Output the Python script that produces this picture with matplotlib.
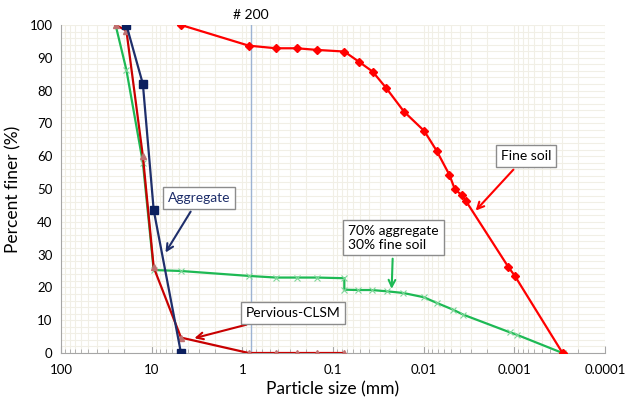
import matplotlib as mpl
mpl.use('Agg')
import matplotlib.pyplot as plt
from matplotlib.ticker import LogLocator, MultipleLocator, NullFormatter

plt.rcParams['font.family'] = ['Lato', 'DejaVu Sans']

# aggregate gradation
agg_size = [19, 12.5, 9.5, 4.75]
agg_pass = [100, 82, 43.6, 0]

# pervious CLSM
clsm_size = [25, 19, 12.5, 9.5, 4.75, 0.85, 0.425, 0.25, 0.15, 0.075]
clsm_pass = [100, 98.3, 60, 26.1, 4.7, 0, 0, 0, 0, 0]

# fine soil (sieve + hydrometer)
fine_size = [4.75, 0.85, 0.425, 0.25, 0.15, 0.075, 0.0518, 0.0366, 0.0261, 0.0165,
             0.00986, 0.00721, 0.0052, 0.00453, 0.00382, 0.00343, 0.00117, 0.000987, 0.000294]
fine_pass = [100, 93.7, 92.9, 92.9, 92.4, 91.9, 88.8, 85.8, 80.9, 73.6,
             67.7, 61.7, 54.3, 49.9, 48.2, 46.4, 26.3, 23.5, 0]

# 70% aggregate + 30% fine soil
mix_size = [25, 19, 12.5, 9.5, 4.75, 0.85, 0.425, 0.25, 0.15, 0.075, 0.075, 0.0527,
            0.0375, 0.0252, 0.0168, 0.00995, 0.00721, 0.00473, 0.00367, 0.00112, 0.000946, 0.000294]
mix_pass = [100, 86.3, 58, 25.3, 25, 23.5, 23, 23, 23, 22.8, 19.3, 19.2,
            19.2, 18.8, 18.3, 17, 15.3, 13.2, 11.7, 6.3, 5.6, 0]

xticks = [100, 10, 1, 0.1, 0.01, 0.001, 0.0001]
xticklabels = ['100', '10', '1', '0.1', '0.01', '0.001', '0.0001']
sieve200 = 0.8

fig = plt.figure(figsize=(6.25, 4.01), dpi=100)
ax = fig.add_axes([0.0976, 0.1197, 0.8704, 0.818])

ax.set_xscale('log')
ax.set_xlim(100, 0.0001)
ax.set_ylim(0, 100)

gridc = '#f1efe6'
ax.xaxis.set_minor_locator(LogLocator(base=10, subs=range(2, 10), numticks=100))
ax.xaxis.set_minor_formatter(NullFormatter())
ax.set_xticks(xticks)
ax.set_xticklabels(xticklabels)
ax.yaxis.set_major_locator(MultipleLocator(10))
ax.yaxis.set_minor_locator(MultipleLocator(2))
ax.grid(True, which='both', color=gridc, lw=0.8)
ax.set_axisbelow(True)

for s in ['top', 'right']:
    ax.spines[s].set_visible(False)
ax.spines['left'].set_color('#a6a6a6')
ax.spines['bottom'].set_color('#a6a6a6')
ax.tick_params(axis='x', which='major', direction='in', length=5, color='#a6a6a6', labelsize=9.5, pad=8)
ax.tick_params(axis='x', which='minor', direction='in', length=3, color='#a6a6a6')
ax.tick_params(axis='y', which='both', length=0, labelsize=9.5, pad=6)

ax.axvline(sieve200, color='#9db3d3', lw=1, zorder=1)
ax.text(sieve200, 101.2, '# 200', ha='center', va='bottom', fontsize=10)

ax.plot(mix_size, mix_pass, color='#1db954', lw=1.6, marker='x', ms=4, mew=0.8,
        mec='#7fd89a', zorder=3)
ax.plot(clsm_size, clsm_pass, color='#c80000', lw=1.6, marker='^', ms=4.5,
        mfc='#c07070', mec='#c07070', zorder=4)
ax.plot(agg_size, agg_pass, color='#1f2f6b', lw=1.6, marker='s', ms=6,
        mfc='#0b1f5e', mec='#0b1f5e', zorder=5)
ax.plot(fine_size, fine_pass, color='#ff0000', lw=1.6, marker='D', ms=4,
        mfc='#ff0000', mec='#ff0000', zorder=4)

box = dict(boxstyle='square,pad=0.35', fc='white', ec='#8c8c8c', lw=1)
ax.annotate('Aggregate', xy=(7.3, 29.9), xytext=(3.0, 47.3), ha='center', va='center',
            fontsize=10, color='#1f2f6b', bbox=box,
            arrowprops=dict(arrowstyle='->', color='#1f2f6b', lw=1.5, mutation_scale=12))
ax.annotate('Fine soil', xy=(0.0028, 42.8), xytext=(0.000748, 60), ha='center', va='center',
            fontsize=10, bbox=box,
            arrowprops=dict(arrowstyle='->', color='#ff0000', lw=1.5, mutation_scale=12))
ax.annotate('70% aggregate\n30% fine soil', xy=(0.0226, 18.7), xytext=(0.0216, 35.2),
            ha='center', va='center', multialignment='left', fontsize=10, bbox=box,
            arrowprops=dict(arrowstyle='->', color='#1db954', lw=1.5, mutation_scale=12))
ax.annotate('Pervious-CLSM', xy=(3.62, 4.3), xytext=(0.277, 12.3), ha='center', va='center',
            fontsize=10, bbox=box,
            arrowprops=dict(arrowstyle='->', color='#c80000', lw=1.5, mutation_scale=12))

ax.set_xlabel('Particle size (mm)', fontsize=12.5, labelpad=4)
ax.set_ylabel('Percent finer (%)', fontsize=12.5, labelpad=6)

fig.savefig('out.png', dpi=100)
